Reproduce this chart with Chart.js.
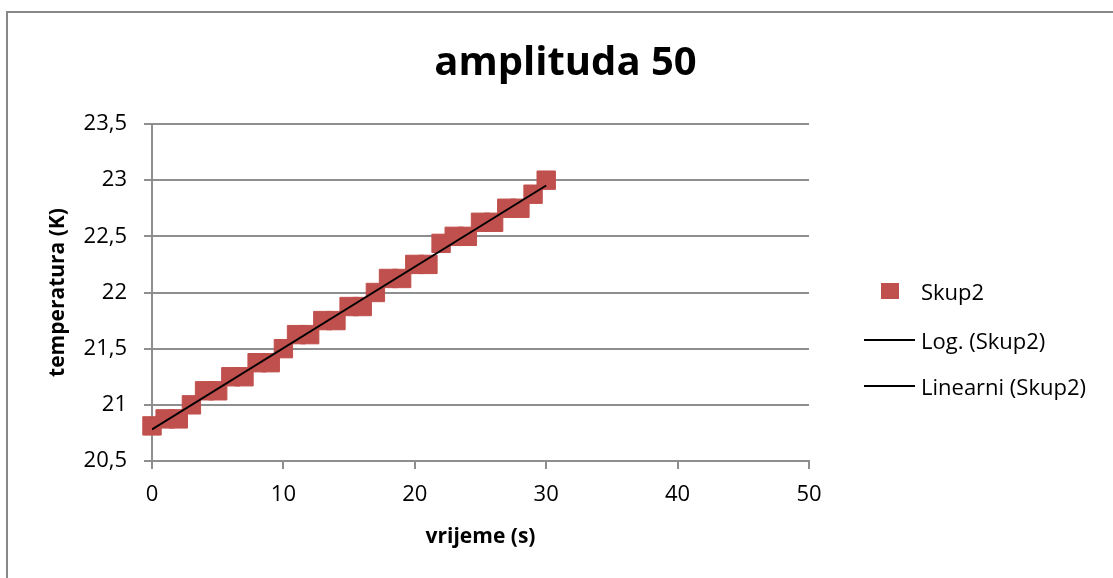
<!DOCTYPE html>
<html>
<head>
<meta charset="utf-8">
<title>amplituda 50</title>
<script src="https://cdn.jsdelivr.net/npm/chart.js@4.4.1/dist/chart.umd.min.js"></script>
<style>
    html, body { margin: 0; padding: 0; background: #fff; }
    #wrap { position: relative; width: 1113px; height: 578px; overflow: hidden; }
    #frame { position: absolute; left: 6px; top: 11px; width: 1200px; height: 700px; border: 2px solid #888; box-sizing: border-box; pointer-events: none; }
    #chart { position: absolute; left: 0; top: 0; }
    .legend-item { position: absolute; left: 864px; height: 24px; display: flex; align-items: center; font: 22px "Open Sans", sans-serif; color: #000; white-space: nowrap; }
    .swatch { position: relative; width: 51px; height: 24px; margin-right: 6px; }
    .swatch.square::after { content: ''; position: absolute; left: 17px; top: 4px; width: 18px; height: 16px; background: #C0504D; }
    .swatch.line::after { content: ''; position: absolute; left: 0; top: 11px; width: 51px; height: 2px; background: #000; }
</style>
</head>
<body>
<div id="wrap">
    <canvas id="chart" width="1113" height="578"></canvas>
    <div id="legend"></div>
    <div id="frame"></div>
</div>
<script>
// measured series: time (s) vs temperature
const times = [0, 1, 2, 3, 4, 5, 6, 7, 8, 9, 10, 11, 12, 13, 14, 15, 16, 17, 18, 19, 20, 21, 22, 23, 24, 25, 26, 27, 28, 29, 30];
const temperatures = [20.8125, 20.875, 20.875, 21.0, 21.125, 21.125, 21.25, 21.25, 21.375, 21.375, 21.5,
    21.625, 21.625, 21.75, 21.75, 21.875, 21.875, 22.0, 22.125, 22.125, 22.25,
    22.25, 22.4375, 22.5, 22.5, 22.625, 22.625, 22.75, 22.75, 22.875, 23.0];

const seriesNames = ['Skup2', 'Log. (Skup2)', 'Linearni (Skup2)'];

// axis ranges / ticks
const xTicks = [0, 10, 20, 30, 40, 50];
const yTicks = [20.5, 21, 21.5, 22, 22.5, 23, 23.5];

const FONT = '"Open Sans", sans-serif';
const GRID = '#8e8e8e';

// least squares line through the points (Excel "Linearni" trendline)
function linearFit(xs, ys) {
    const n = xs.length;
    let sx = 0, sy = 0, sxx = 0, sxy = 0;
    for (let i = 0; i < n; i++) {
        sx += xs[i]; sy += ys[i];
        sxx += xs[i] * xs[i]; sxy += xs[i] * ys[i];
    }
    const b = (n * sxy - sx * sy) / (n * sxx - sx * sx);
    const a = (sy - b * sx) / n;
    return x => a + b * x;
}

const fit = linearFit(times, temperatures);
const xFirst = times[0];
const xLast = times[times.length - 1];

const points = times.map((t, i) => ({ x: t, y: temperatures[i] }));

new Chart(document.getElementById('chart'), {
    type: 'scatter',
    data: {
        datasets: [
            {
                label: seriesNames[0],
                data: points,
                pointStyle: 'rect',
                pointRadius: 13,
                pointHoverRadius: 13,
                backgroundColor: '#C0504D',
                borderColor: '#C0504D',
                borderWidth: 1,
                clip: false,
                order: 2
            },
            {
                // log trendline can't be fitted with x = 0, Excel draws nothing
                label: seriesNames[1],
                type: 'line',
                data: [],
                borderColor: '#000',
                borderWidth: 2,
                pointRadius: 0,
                order: 1
            },
            {
                label: seriesNames[2],
                type: 'line',
                data: [{ x: xFirst, y: fit(xFirst) }, { x: xLast, y: fit(xLast) }],
                borderColor: '#000',
                borderWidth: 2,
                pointRadius: 0,
                tension: 0,
                order: 1
            }
        ]
    },
    options: {
        responsive: false,
        animation: false,
        layout: { padding: { left: 18, right: 0, top: 0, bottom: 0 } },
        plugins: {
            legend: { display: false },
            tooltip: { enabled: false },
            title: {
                display: true,
                text: 'amplituda 50',
                color: '#000',
                font: { family: FONT, size: 40, weight: 'bold' },
                padding: { top: 40, bottom: 36 }
            }
        },
        scales: {
            x: {
                type: 'linear',
                min: xTicks[0],
                max: xTicks[xTicks.length - 1],
                afterBuildTicks: scale => { scale.ticks = xTicks.map(v => ({ value: v })); },
                afterFit: scale => { scale.height = 117; },
                grid: { drawOnChartArea: false, drawTicks: true, tickLength: 8, color: GRID, lineWidth: 2 },
                border: { display: true, color: GRID, width: 2 },
                ticks: { color: '#000', padding: 13, font: { family: FONT, size: 22 } },
                title: {
                    display: true,
                    text: 'vrijeme (s)',
                    color: '#000',
                    font: { family: FONT, size: 21, weight: 'bold' },
                    padding: { top: 0, bottom: 28 }
                }
            },
            y: {
                type: 'linear',
                min: yTicks[0],
                max: yTicks[yTicks.length - 1],
                afterBuildTicks: scale => { scale.ticks = yTicks.map(v => ({ value: v })); },
                afterFit: scale => { scale.width = 134; },
                grid: { drawTicks: true, tickLength: 8, color: GRID, lineWidth: 2 },
                border: { display: true, color: GRID, width: 2 },
                ticks: {
                    color: '#000',
                    padding: 17,
                    font: { family: FONT, size: 22 },
                    callback: v => String(v).replace('.', ',')
                },
                title: {
                    display: true,
                    text: 'temperatura (K)',
                    color: '#000',
                    font: { family: FONT, size: 21, weight: 'bold' },
                    padding: { top: 27, bottom: 0 }
                }
            },
            // empty axis that reserves the room where the legend sits
            legendSpace: {
                type: 'linear',
                position: 'right',
                display: true,
                grid: { display: false },
                border: { display: false },
                ticks: { display: false },
                afterFit: scale => { scale.width = 304; }
            }
        }
    }
});

// legend to the right, laid out like the Excel one
const legendRows = [291, 340, 386];
const legendEl = document.getElementById('legend');
seriesNames.forEach((name, i) => {
    const item = document.createElement('div');
    item.className = 'legend-item';
    item.style.top = (legendRows[i] - 12) + 'px';
    const swatch = document.createElement('span');
    swatch.className = 'swatch ' + (i === 0 ? 'square' : 'line');
    const text = document.createElement('span');
    text.textContent = name;
    item.appendChild(swatch);
    item.appendChild(text);
    legendEl.appendChild(item);
});
</script>
</body>
</html>
